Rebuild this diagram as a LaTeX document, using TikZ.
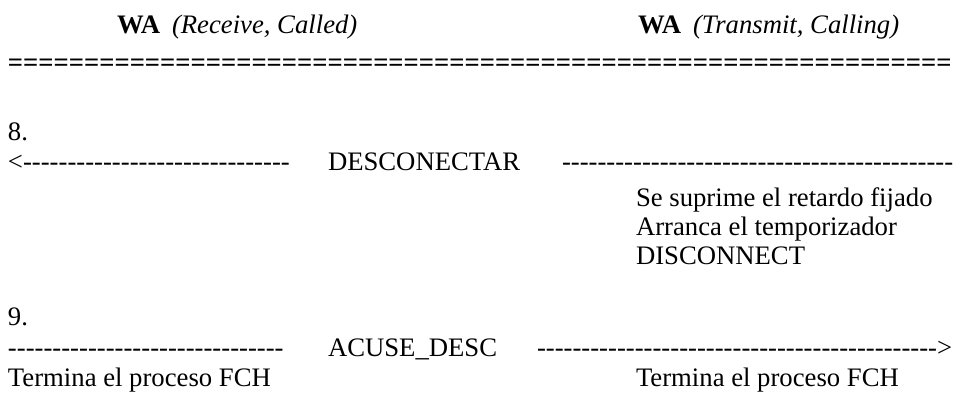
\documentclass[tikz,border=0pt]{standalone}
\usepackage{fontspec}
\setmainfont{Liberation Serif}[Ligatures=TeXOff]
\begin{document}
\begin{tikzpicture}[x=1pt,y=-1pt,
  txt/.style={anchor=base west,inner sep=0pt,outer sep=0pt,font=\fontsize{26.7}{30}\selectfont}]
\useasboundingbox[fill=white] (0,0) rectangle (956,412);
% headers
\node[txt] (h1) at (117,34) {\textbf{WA}\hspace{12pt}\textit{(Receive, Called)}};
\node[txt] (h2) at (638,34) {\textbf{WA}\hspace{12pt}\textit{(Transmit, Calling)}};
\node[txt] (eq) at (8,71) {\textbf{==============================================================}};
% step 8
\node[txt] (n8) at (8,140) {8.};
\node[txt] (l8) at (8,170) {<------------------------------};
\node[txt] (m8) at (328,170) {DESCONECTAR};
\node[txt] (r8) at (562,170) {--------------------------------------------};
\node[txt] (a1) at (636,206) {Se suprime el retardo fijado};
\node[txt] (a2) at (636,235) {Arranca el temporizador};
\node[txt] (a3) at (636,264) {DISCONNECT};
% step 9
\node[txt] (n9) at (8,325) {9.};
\node[txt] (l9) at (8,356) {-------------------------------};
\node[txt] (m9) at (328,356) {ACUSE\_DESC};
\node[txt] (r9) at (537,356) {--------------------------------------------->};
\node[txt] (t1) at (8,386) {Termina el proceso FCH};
\node[txt] (t2) at (636,386) {Termina el proceso FCH};
\end{tikzpicture}
\end{document}
